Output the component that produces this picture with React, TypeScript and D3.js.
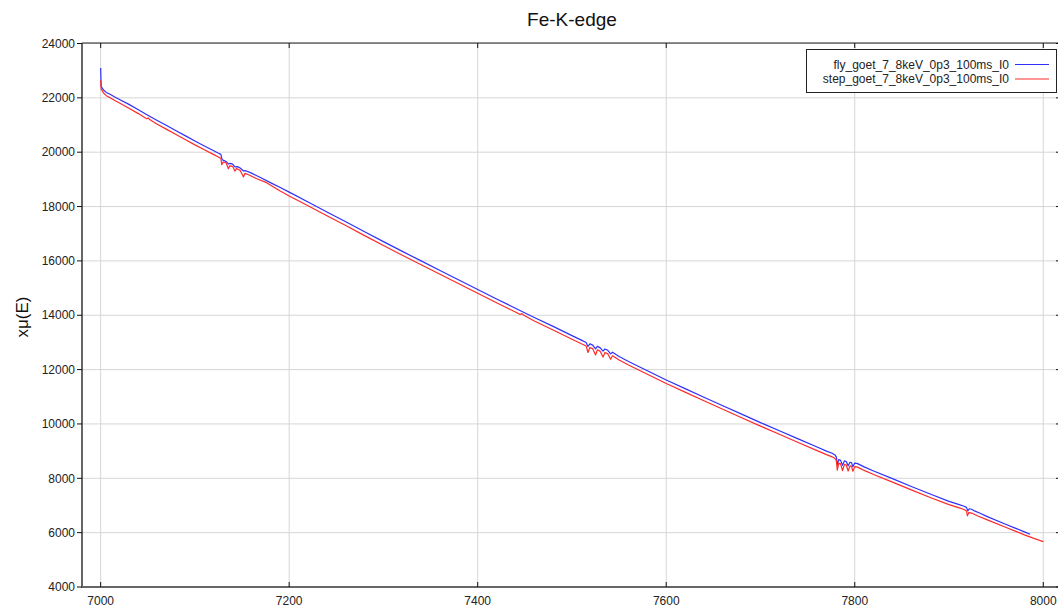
import React from 'react';
import * as d3 from 'd3';

const chartTitle = 'Fe-K-edge';
const yAxisLabel = 'xμ(E)';
const xTickValues = [7000, 7200, 7400, 7600, 7800, 8000];
const yTickValues = [4000, 6000, 8000, 10000, 12000, 14000, 16000, 18000, 20000, 22000, 24000];
const seriesNames = ['fly_goet_7_8keV_0p3_100ms_I0', 'step_goet_7_8keV_0p3_100ms_I0'];
const seriesColors = ['#3030ff', '#ff2a2a'];

const flyPoints: [number, number][] = [
  [7000, 23100], [7000.5, 22420], [7003, 22290], [7006, 22200], [7010, 22130], [7015, 22030],
  [7020, 21940], [7030, 21760], [7040, 21560], [7050, 21360], [7060, 21170], [7070, 20980],
  [7080, 20790], [7090, 20600], [7100, 20410], [7110, 20230], [7120, 20050], [7125, 19960],
  [7127.5, 19920], [7129, 19720], [7131, 19690], [7133, 19660], [7135.5, 19570], [7137.5, 19590],
  [7140, 19560], [7142.5, 19460], [7145, 19470], [7148, 19420], [7151.5, 19310], [7154, 19320],
  [7160, 19230], [7170, 19060], [7180, 18880], [7190, 18710], [7200, 18530], [7220, 18170],
  [7240, 17800], [7260, 17440], [7280, 17070], [7300, 16710], [7320, 16350], [7340, 16000],
  [7360, 15650], [7380, 15300], [7400, 14950], [7420, 14600], [7440, 14260], [7460, 13920],
  [7480, 13590], [7500, 13250], [7510, 13085], [7515, 13000], [7517, 12850], [7519, 12950],
  [7522, 12900], [7525, 12760], [7527, 12860], [7530, 12800], [7533, 12680], [7535, 12760],
  [7538, 12710], [7541, 12580], [7543, 12640], [7550, 12480], [7560, 12300], [7580, 11960],
  [7600, 11620], [7620, 11300], [7640, 10985], [7660, 10670], [7680, 10360], [7700, 10050],
  [7720, 9750], [7740, 9450], [7760, 9150], [7770, 9000], [7776, 8920], [7779, 8860],
  [7780.5, 8780], [7781.5, 8500], [7783, 8690], [7785, 8660], [7787, 8480], [7789, 8640],
  [7791, 8620], [7793, 8460], [7795, 8590], [7796.5, 8580], [7798, 8430], [7800, 8560],
  [7803, 8540], [7810, 8420], [7820, 8270], [7840, 7990], [7860, 7700], [7880, 7420],
  [7900, 7150], [7910, 7040], [7916, 6970], [7918.5, 6930], [7920, 6800], [7921.5, 6880],
  [7924, 6860], [7927, 6800], [7933, 6715], [7940, 6600], [7960, 6310], [7980, 6030],
  [7986, 5941],
];

const stepPoints: [number, number][] = [
  [7000, 22650], [7000.5, 22330], [7003, 22180], [7006, 22080], [7010, 22000], [7015, 21900],
  [7020, 21810], [7030, 21620], [7040, 21420], [7047, 21270], [7049, 21230], [7050.5, 21260],
  [7052, 21200], [7060, 21030], [7070, 20840], [7080, 20650], [7090, 20460], [7100, 20270],
  [7110, 20090], [7120, 19910], [7125, 19820], [7127.5, 19780], [7128.5, 19540], [7130, 19640],
  [7133, 19610], [7135.5, 19390], [7137, 19500], [7140, 19480], [7142.5, 19300], [7144, 19400],
  [7148, 19330], [7151.5, 19090], [7153, 19220], [7157, 19170], [7165, 19030], [7176, 18880],
  [7190, 18580], [7200, 18390], [7220, 18030], [7240, 17660], [7260, 17300], [7280, 16930],
  [7300, 16570], [7320, 16210], [7340, 15860], [7360, 15510], [7380, 15160], [7400, 14810],
  [7420, 14460], [7440, 14120], [7445, 14030], [7447, 14060], [7449, 14000], [7460, 13790],
  [7480, 13460], [7500, 13120], [7510, 12950], [7515, 12870], [7517, 12630], [7519, 12810],
  [7522, 12770], [7525, 12540], [7527, 12730], [7530, 12670], [7533, 12460], [7535, 12630],
  [7538, 12580], [7541, 12380], [7543, 12510], [7550, 12350], [7560, 12170], [7580, 11830],
  [7600, 11490], [7620, 11170], [7640, 10855], [7660, 10540], [7680, 10230], [7700, 9920],
  [7720, 9620], [7740, 9320], [7760, 9020], [7770, 8870], [7776, 8790], [7779, 8730],
  [7780.5, 8650], [7781.5, 8300], [7783, 8560], [7785, 8530], [7787, 8280], [7789, 8510],
  [7791, 8490], [7793, 8270], [7795, 8460], [7796.5, 8450], [7798, 8260], [7800, 8430],
  [7803, 8410], [7810, 8290], [7820, 8140], [7840, 7860], [7860, 7575], [7880, 7295],
  [7900, 7030], [7910, 6920], [7916, 6850], [7918.5, 6800], [7919.5, 6620], [7921, 6740],
  [7924, 6720], [7930, 6620], [7940, 6480], [7960, 6200], [7980, 5920], [7990, 5790],
  [8000, 5670],
];

const series = [flyPoints, stepPoints];

export default function App() {
  const W = 1058;
  const H = 607;
  const left = 82;
  const right = 1061;
  const top = 43;
  const bottom = 587;
  const font = '"Liberation Sans", Arial, sans-serif';

  const x = d3.scaleLinear().domain([6980.2, 8018.8]).range([left, right]);
  const y = d3.scaleLinear().domain([4000, 24000]).range([bottom, top + 0.5]);
  const line = d3
    .line<[number, number]>()
    .x((d) => x(d[0]))
    .y((d) => y(d[1]));

  return (
    <svg
      width={W}
      height={H}
      style={{ position: 'absolute', left: 0, top: 0, background: '#fff' }}
      fontFamily={font}
    >
      <defs>
        <clipPath id="plotClip">
          <rect x={left} y={top} width={right - left} height={bottom - top} />
        </clipPath>
      </defs>
      <rect x={0} y={0} width={W} height={H} fill="#fff" />

      {/* grid */}
      {xTickValues.map((t) => (
        <line key={'gx' + t} x1={x(t)} x2={x(t)} y1={top} y2={bottom} stroke="#d6d6d6" strokeWidth={1} />
      ))}
      {yTickValues.map((t) => (
        <line key={'gy' + t} x1={left} x2={right} y1={y(t)} y2={y(t)} stroke="#d6d6d6" strokeWidth={1} />
      ))}

      {/* series */}
      <g clipPath="url(#plotClip)">
        {series.map((pts, i) => (
          <path key={i} d={line(pts) || ''} fill="none" stroke={seriesColors[i]} strokeWidth={1.2} strokeLinejoin="round" />
        ))}
      </g>

      {/* frame */}
      <line x1={left} x2={right} y1={top} y2={top} stroke="#222" strokeWidth={1.2} />
      <line x1={left} x2={left} y1={top} y2={bottom + 1} stroke="#333" strokeWidth={1.5} />
      <line x1={left} x2={right} y1={bottom} y2={bottom} stroke="#666" strokeWidth={2} />

      {/* x ticks */}
      {xTickValues.map((t) => (
        <g key={'tx' + t}>
          <line x1={x(t)} x2={x(t)} y1={bottom - 5} y2={bottom} stroke="#111" strokeWidth={1} />
          <line x1={x(t)} x2={x(t)} y1={top} y2={top + 5} stroke="#111" strokeWidth={1} />
          <text x={x(t)} y={605} textAnchor="middle" fontSize={12} fill="#222">
            {t}
          </text>
        </g>
      ))}

      {/* y ticks */}
      {yTickValues.map((t) => (
        <g key={'ty' + t}>
          <line x1={left - 5} x2={left} y1={y(t)} y2={y(t)} stroke="#111" strokeWidth={1} />
          <line x1={right - 5} x2={right} y1={y(t)} y2={y(t)} stroke="#111" strokeWidth={1} />
          <text x={75} y={y(t)} dy="0.35em" textAnchor="end" fontSize={12} fill="#222">
            {t}
          </text>
        </g>
      ))}

      {/* title */}
      <text x={572} y={26} textAnchor="middle" fontSize={19} fill="#111">
        {chartTitle}
      </text>

      {/* y label */}
      <text transform="translate(28,317) rotate(-90)" textAnchor="middle" fontSize={17} fill="#111">
        {yAxisLabel}
      </text>

      {/* legend */}
      <g>
        <rect x={806.5} y={49.5} width={250} height={43} fill="#fff" stroke="#222" strokeWidth={1} />
        {seriesNames.map((name, i) => (
          <g key={name}>
            <text x={1009} y={64.5 + i * 14.5} dy="0.35em" textAnchor="end" fontSize={12} fill="#222">
              {name}
            </text>
            <line x1={1015} x2={1049} y1={64.5 + i * 14.5} y2={64.5 + i * 14.5} stroke={seriesColors[i]} strokeWidth={1.2} />
          </g>
        ))}
      </g>
    </svg>
  );
}
